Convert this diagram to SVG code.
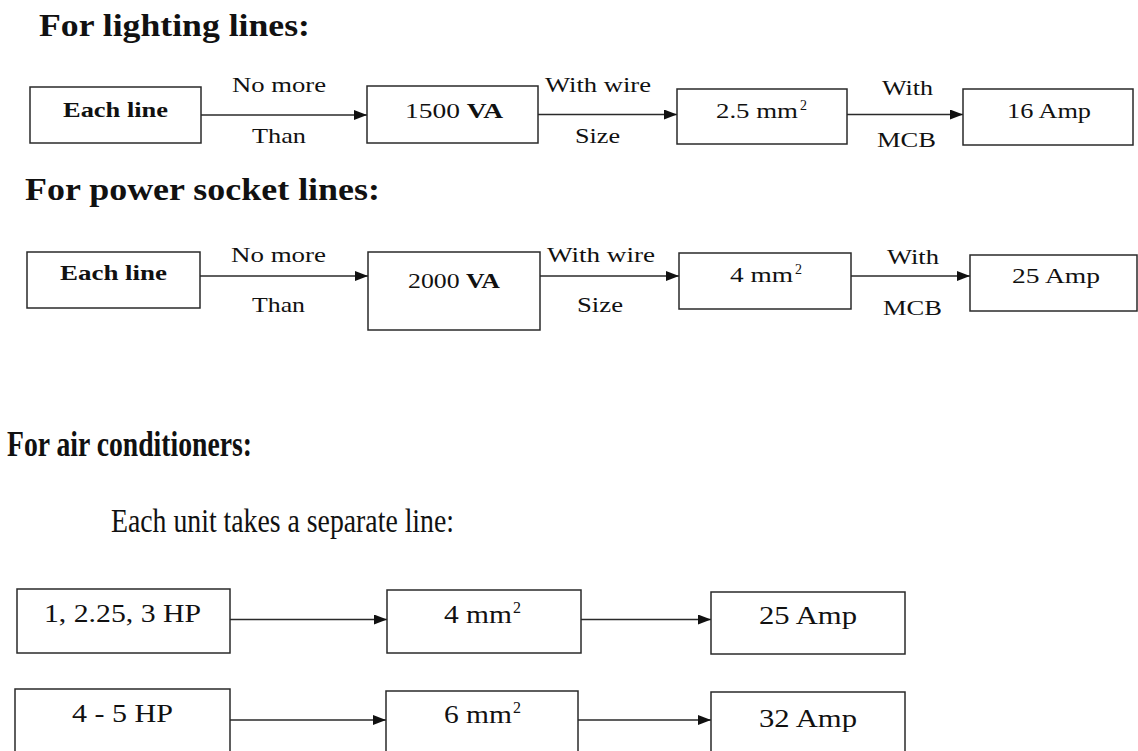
<svg xmlns="http://www.w3.org/2000/svg" width="1138" height="751" viewBox="0 0 1138 751">
<style>
  .box { fill: #fff; stroke: #2a2a2a; stroke-width: 1.5; }
  .conn { stroke: #2a2a2a; stroke-width: 1.5; fill: none; marker-end: url(#arr); }
  text { font-family: "Liberation Serif", "Times New Roman", serif; fill: #111; }
  .h { font-weight: bold; font-size: 31px; }
  .h3 { font-weight: bold; font-size: 36px; }
  .sub { font-size: 34px; }
  .t { font-size: 22px; }
  .tb { font-size: 22px; font-weight: bold; }
  .tl { font-size: 26px; }
  .sup { font-size: 14px; }
  .supl { font-size: 16px; }
</style>
<defs>
  <marker id="arr" markerUnits="userSpaceOnUse" markerWidth="14" markerHeight="11" refX="13" refY="5" orient="auto">
    <path d="M0,0 L13,5 L0,10 z" fill="#111"/>
  </marker>
</defs>

<text class="h" x="39" y="36" textLength="271" lengthAdjust="spacingAndGlyphs">For lighting lines:</text>
<text class="h" x="25" y="200" textLength="355" lengthAdjust="spacingAndGlyphs">For power socket lines:</text>
<text class="h3" x="7" y="456" textLength="245" lengthAdjust="spacingAndGlyphs">For air conditioners:</text>
<text class="sub" x="111" y="532" textLength="343" lengthAdjust="spacingAndGlyphs">Each unit takes a separate line:</text>

<g id="connectors">
  <line class="conn" x1="201" y1="115" x2="367" y2="115"/>
  <line class="conn" x1="538" y1="114.5" x2="677" y2="114.5"/>
  <line class="conn" x1="847" y1="114.5" x2="963" y2="114.5"/>
  <line class="conn" x1="200" y1="276" x2="368" y2="276"/>
  <line class="conn" x1="540" y1="276" x2="679" y2="276"/>
  <line class="conn" x1="851" y1="276" x2="970" y2="276"/>
  <line class="conn" x1="230" y1="619.5" x2="387" y2="619.5"/>
  <line class="conn" x1="581" y1="619.5" x2="711" y2="619.5"/>
  <line class="conn" x1="230" y1="720" x2="386" y2="720"/>
  <line class="conn" x1="578" y1="720" x2="711" y2="720"/>
  <text class="t" x="232" y="92" textLength="94" lengthAdjust="spacingAndGlyphs">No more</text>
  <text class="t" x="252" y="143" textLength="54" lengthAdjust="spacingAndGlyphs">Than</text>
  <text class="t" x="545" y="92" textLength="106" lengthAdjust="spacingAndGlyphs">With wire</text>
  <text class="t" x="575" y="143" textLength="45" lengthAdjust="spacingAndGlyphs">Size</text>
  <text class="t" x="882" y="95" textLength="51" lengthAdjust="spacingAndGlyphs">With</text>
  <text class="t" x="877" y="147" textLength="59" lengthAdjust="spacingAndGlyphs">MCB</text>
  <text class="t" x="231" y="262" textLength="95" lengthAdjust="spacingAndGlyphs">No more</text>
  <text class="t" x="252" y="312" textLength="53" lengthAdjust="spacingAndGlyphs">Than</text>
  <text class="t" x="547" y="262" textLength="108" lengthAdjust="spacingAndGlyphs">With wire</text>
  <text class="t" x="577" y="312" textLength="46" lengthAdjust="spacingAndGlyphs">Size</text>
  <text class="t" x="887" y="264" textLength="52" lengthAdjust="spacingAndGlyphs">With</text>
  <text class="t" x="883" y="315" textLength="59" lengthAdjust="spacingAndGlyphs">MCB</text>
</g>

<g id="l-each">
  <rect class="box" x="30" y="87" width="171" height="56"/>
  <text class="tb" x="63" y="117" textLength="105" lengthAdjust="spacingAndGlyphs">Each line</text>
</g>
<g id="l-va">
  <rect class="box" x="367" y="86" width="171" height="57"/>
  <text class="t" x="405" y="118" textLength="98" lengthAdjust="spacingAndGlyphs">1500 <tspan font-weight="bold">VA</tspan></text>
</g>
<g id="l-wire">
  <rect class="box" x="677" y="89" width="170" height="55"/>
  <text class="t" x="716" y="118"><tspan textLength="82" lengthAdjust="spacingAndGlyphs">2.5 mm</tspan><tspan class="sup" x="800" dy="-8">2</tspan></text>
</g>
<g id="l-mcb">
  <rect class="box" x="963" y="89" width="170" height="56"/>
  <text class="t" x="1007" y="118" textLength="84" lengthAdjust="spacingAndGlyphs">16 Amp</text>
</g>

<g id="p-each">
  <rect class="box" x="27" y="252" width="173" height="56"/>
  <text class="tb" x="60" y="280" textLength="107" lengthAdjust="spacingAndGlyphs">Each line</text>
</g>
<g id="p-va">
  <rect class="box" x="368" y="252" width="172" height="78"/>
  <text class="t" x="408" y="288" textLength="92" lengthAdjust="spacingAndGlyphs">2000 <tspan font-weight="bold">VA</tspan></text>
</g>
<g id="p-wire">
  <rect class="box" x="679" y="253" width="172" height="56"/>
  <text class="t" x="730" y="282"><tspan textLength="63" lengthAdjust="spacingAndGlyphs">4 mm</tspan><tspan class="sup" x="795" dy="-8">2</tspan></text>
</g>
<g id="p-mcb">
  <rect class="box" x="970" y="255" width="167" height="56"/>
  <text class="t" x="1012" y="283" textLength="88" lengthAdjust="spacingAndGlyphs">25 Amp</text>
</g>

<g id="a1-hp">
  <rect class="box" x="17" y="589" width="213" height="64"/>
  <text class="tl" x="44" y="622" textLength="157" lengthAdjust="spacingAndGlyphs">1, 2.25, 3 HP</text>
</g>
<g id="a1-wire">
  <rect class="box" x="387" y="590" width="194" height="63"/>
  <text class="tl" x="444" y="623"><tspan textLength="68" lengthAdjust="spacingAndGlyphs">4 mm</tspan><tspan class="supl" x="513" dy="-10">2</tspan></text>
</g>
<g id="a1-mcb">
  <rect class="box" x="711" y="592" width="194" height="62"/>
  <text class="tl" x="759" y="624" textLength="98" lengthAdjust="spacingAndGlyphs">25 Amp</text>
</g>

<g id="a2-hp">
  <rect class="box" x="15" y="689" width="215" height="80"/>
  <text class="tl" x="72" y="722" textLength="101" lengthAdjust="spacingAndGlyphs">4 - 5 HP</text>
</g>
<g id="a2-wire">
  <rect class="box" x="386" y="691" width="192" height="80"/>
  <text class="tl" x="444" y="723"><tspan textLength="68" lengthAdjust="spacingAndGlyphs">6 mm</tspan><tspan class="supl" x="513" dy="-10">2</tspan></text>
</g>
<g id="a2-mcb">
  <rect class="box" x="711" y="692" width="194" height="80"/>
  <text class="tl" x="759" y="727" textLength="98" lengthAdjust="spacingAndGlyphs">32 Amp</text>
</g>
</svg>
